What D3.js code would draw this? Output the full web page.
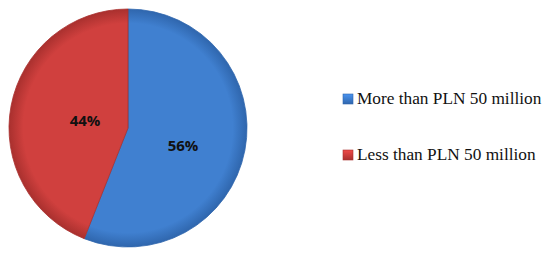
<!DOCTYPE html>
<html>
<head>
<meta charset="utf-8">
<script src="https://cdn.jsdelivr.net/npm/d3@7"></script>
<style>
  body { margin: 0; background: #fff; }
  svg { display: block; }
</style>
</head>
<body>
<svg id="chart" width="550" height="261"></svg>
<script>
// slice data
const categories = ['More than PLN 50 million', 'Less than PLN 50 million'];
const shares = [56, 44];
const colors = ['#4080d0', '#d0403e'];
const darkColors = ['#2f66ad', '#a9302e'];

const svg = d3.select('#chart');
const cx = 128, cy = 128, radius = 119;

const defs = svg.append('defs');
colors.forEach((c, i) => {
  const g = defs.append('radialGradient')
    .attr('id', 'grad' + i)
    .attr('gradientUnits', 'userSpaceOnUse')
    .attr('cx', 0).attr('cy', 0).attr('r', radius);
  g.append('stop').attr('offset', '0%').attr('stop-color', c);
  g.append('stop').attr('offset', '88%').attr('stop-color', c);
  g.append('stop').attr('offset', '100%').attr('stop-color', darkColors[i]);

  const lg = defs.append('linearGradient')
    .attr('id', 'lgrad' + i)
    .attr('x1', 0).attr('y1', 0).attr('x2', 0).attr('y2', 1);
  lg.append('stop').attr('offset', '0%').attr('stop-color', d3.color(c).brighter(0.4));
  lg.append('stop').attr('offset', '100%').attr('stop-color', darkColors[i]);
});

const pie = d3.pie().sort(null).value(d => d);
const arc = d3.arc().innerRadius(0).outerRadius(radius);

const g = svg.append('g').attr('transform', `translate(${cx},${cy})`);
const arcs = pie(shares);

g.selectAll('path.slice')
  .data(arcs)
  .join('path')
  .attr('class', 'slice')
  .attr('d', arc)
  .attr('fill', (d, i) => `url(#grad${i})`)
  .attr('stroke', (d, i) => darkColors[i])
  .attr('stroke-width', 0.8);

const labelPos = [[55, 17], [-43, -8]];
g.selectAll('text.pct')
  .data(arcs)
  .join('text')
  .attr('class', 'pct')
  .attr('x', (d, i) => labelPos[i][0])
  .attr('y', (d, i) => labelPos[i][1])
  .attr('text-anchor', 'middle')
  .attr('dominant-baseline', 'central')
  .attr('font-family', 'Open Sans, sans-serif')
  .attr('font-weight', 'bold')
  .attr('font-size', 15)
  .attr('fill', '#111')
  .text(d => d.data + '%');

const legend = svg.append('g');
const rowY = [99, 155];
const items = legend.selectAll('g.item')
  .data(categories)
  .join('g')
  .attr('class', 'item')
  .attr('transform', (d, i) => `translate(343,${rowY[i]})`);

items.append('rect')
  .attr('x', 0).attr('y', -5)
  .attr('width', 10).attr('height', 10)
  .attr('fill', (d, i) => `url(#lgrad${i})`)
  .attr('stroke', (d, i) => darkColors[i])
  .attr('stroke-width', 0.6);

items.append('text')
  .attr('x', 14)
  .attr('y', 5)
  .attr('font-family', 'Liberation Serif, serif')
  .attr('font-size', 17.3)
  .attr('fill', '#111')
  .text(d => d);
</script>
</body>
</html>
